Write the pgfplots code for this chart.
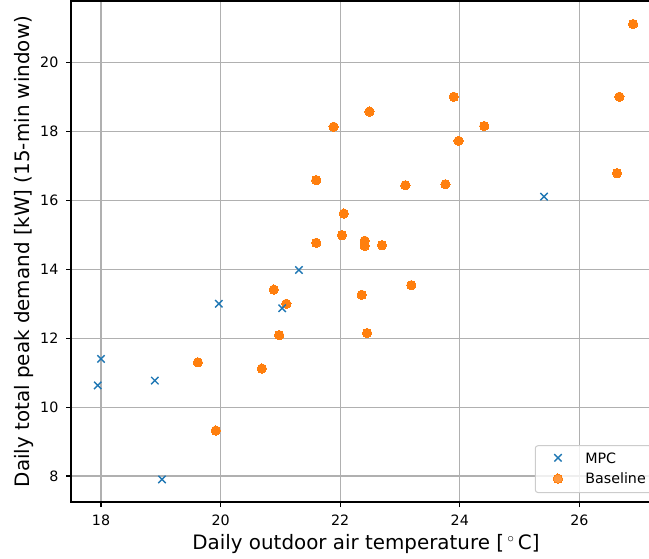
\documentclass[border=0pt]{standalone}
\usepackage{fontspec}
\setmainfont{DejaVu Sans}
\usepackage{pgfplots}
\pgfplotsset{compat=1.18}
\definecolor{mpcblue}{HTML}{1F77B4}
\definecolor{baseorange}{HTML}{FF7F0E}
\definecolor{gridgray}{HTML}{B0B0B0}
\definecolor{legedge}{HTML}{CCCCCC}
\begin{document}
\begin{tikzpicture}
\begin{axis}[
  name=ax,
  scale only axis,
  width=442.5pt, height=375.75pt,
  xmin=17.498, xmax=27.366, ymin=7.245, ymax=21.79,
  xtick={18,20,22,24,26}, ytick={8,10,12,14,16,18,20},
  grid=major,
  grid style={color=gridgray, line width=0.8pt},
  axis line style={line width=0.85pt},
  tick align=outside, major tick length=3.75pt,
  tick style={black, line width=0.85pt},
  xtick pos=left, ytick pos=left,
  /pgf/number format/assume math mode=true,
  ticklabel style={font=\fontsize{10.7}{12.8}\selectfont},
  xticklabel style={anchor=base, yshift=-14pt},
  yticklabel style={anchor=east, inner sep=0pt, xshift=-5.5pt},
  xlabel={Daily outdoor air temperature [\,$^\circ$\,C]},
  ylabel={Daily total peak demand [kW] (15-min window)},
  label style={font=\fontsize{14.9}{17.9}\selectfont},
  xlabel style={at={(axis description cs:0.5,0)}, anchor=base, yshift=-35.5pt},
  ylabel style={at={(axis description cs:0,0.5)}, anchor=center, yshift=35.6pt},
  legend style={at={(1,0)}, anchor=south east, xshift=-6.75pt, yshift=6.75pt,
    draw=legedge, line width=0.75pt, rounded corners=2pt, fill=white, fill opacity=0.8, text opacity=1,
    inner xsep=4.3pt, inner ysep=5pt, row sep=6pt,
    nodes={inner sep=0pt, anchor=base west},
    font=\fontsize{10.7}{12.8}\selectfont},
  legend cell align=left,
  legend image code/.code={
    \path[draw=none, fill=none] (0pt,-1pt) rectangle (33.2pt,7pt);
    \draw plot coordinates {(12.7pt,3.9pt)};
  },
]
\addplot[only marks, mark=*, mark size=3.5pt, color=baseorange,
  mark options={draw=baseorange, fill=baseorange, line width=0pt}, forget plot] coordinates {
(19.62,11.30) (19.92,9.32) (20.69,11.12) (20.89,13.41) (20.98,12.09)
(21.10,13.00) (21.60,14.77) (21.60,16.59) (21.89,18.14) (22.03,14.99)
(22.06,15.62) (22.36,13.26) (22.41,14.83) (22.41,14.68) (22.45,12.15)
(22.49,18.58) (22.70,14.70) (23.09,16.44) (23.19,13.54) (23.76,16.47)
(23.90,19.01) (23.98,17.73) (24.41,18.16) (26.63,16.79) (26.67,19.01)
(26.90,21.12)
};
\addplot[only marks, mark=x, mark size=3.9pt, color=mpcblue, mark options={line width=1.05pt}] coordinates {
(18.00,11.40) (17.945,10.63) (18.90,10.77) (19.02,7.90) (19.97,13.00)
(21.03,12.87) (21.31,13.98) (25.41,16.11)
};
\addlegendentry{MPC}
\addlegendimage{only marks, mark=*, mark size=3.5pt, color=baseorange,
  mark options={draw=baseorange, fill=baseorange, line width=0pt}}
\addlegendentry{Baseline}
\end{axis}
\pgfresetboundingbox
\path[use as bounding box] ([xshift=-53.25pt,yshift=-42pt]ax.south west) rectangle ([xshift=433.5pt,yshift=0.75pt]ax.north west);
\end{tikzpicture}
\end{document}
